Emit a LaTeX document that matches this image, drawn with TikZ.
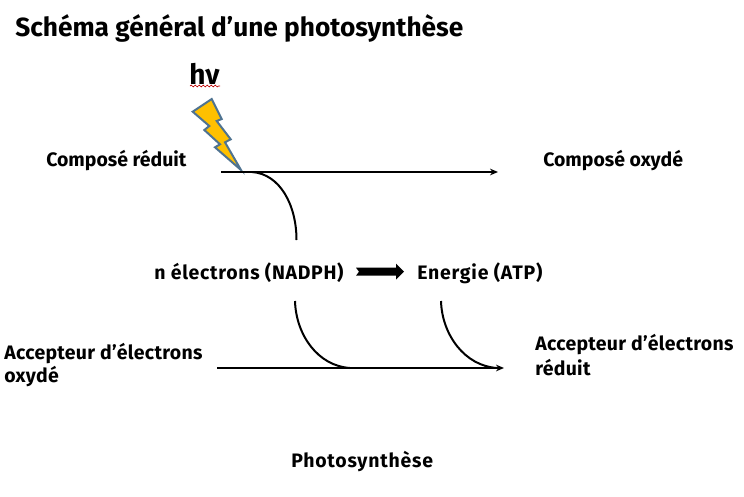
\documentclass[tikz,border=0pt]{standalone}
\usepackage{fontspec}
\setmainfont{Fira Sans}
\usetikzlibrary{arrows.meta,decorations.pathmorphing}
\tikzset{
  x=0.75pt,y=-0.75pt,
  lbl/.style={anchor=west,inner sep=0pt,font=\fontsize{14.6pt}{17pt}\selectfont\bfseries,text=black},
  wide/.style={lbl,font=\fontsize{14.6pt}{17pt}\selectfont\bfseries\addfontfeature{LetterSpace=#1}},
  ttl/.style={anchor=west,inner sep=0pt,font=\fontsize{19.7pt}{22pt}\selectfont\bfseries,text=black},
  link/.style={draw=black,line width=1.5pt},
  flow/.style={link,-{Stealth[length=6pt,width=5pt]}},
  bolt/.style={draw=boltedge,fill=boltfill,line width=1.5pt,line join=miter},
}
\definecolor{boltedge}{HTML}{4F7391}
\definecolor{boltfill}{HTML}{FFC000}
\begin{document}
\begin{tikzpicture}
\useasboundingbox (0,0) rectangle (744,497);
\node[ttl] (title) at (15,28) {Schéma général d’une photosynthèse};
\node[inner sep=0pt,anchor=west,font=\fontsize{21pt}{24pt}\selectfont\bfseries] (hnu) at (189,74) {hν};
\node[lbl] (cr) at (46,161) {Composé réduit};
\node[lbl] (co) at (543,161) {Composé oxydé};
\node[wide=3.6] (nadph) at (154,273) {n électrons (NADPH)};
\node[wide=4] (atp) at (417,273) {Energie (ATP)};
\node[wide=1.5] (ao1) at (4,354) {Accepteur d’électrons};
\node[wide=1.5] (ao2) at (4,377) {oxydé};
\node[wide=1.5] (ar1) at (535,345) {Accepteur d’électrons};
\node[wide=1.5] (ar2) at (535,368) {réduit};
\node[wide=4] (ph) at (291,462) {Photosynthèse};
% wavy underline
\coordinate (wa) at (190,86);
\coordinate (wb) at (220,86);
\draw[red!75!black,line width=0.5pt,decorate,decoration={snake,amplitude=0.7pt,segment length=3pt}] (wa) -- (wb);
% lightning
\draw[bolt] (211.7,99) -- (221.7,119) -- (216.7,121) -- (230.7,139.3) -- (225,142.3) -- (241,170)
  -- (215,147.3) -- (220,144.3) -- (204.3,130) -- (209.3,126) -- (192.7,111.7) -- cycle;
% flows
\coordinate (t1) at (221,172);
\coordinate (t2) at (498,172);
\coordinate (tc) at (252,172);
\coordinate (te) at (296.5,240);
\draw[flow] (t1) -- (t2);
\draw[link] (tc) .. controls (280,174) and (296.5,205) .. (te);
\coordinate (b1) at (217,368);
\coordinate (b2) at (504,368);
\coordinate (c1) at (295,301);
\coordinate (c1e) at (350,368);
\coordinate (c2) at (441,301);
\coordinate (c2e) at (497,368);
\draw[flow] (b1) -- (b2);
\draw[link] (c1) .. controls (296,335) and (318,366) .. (c1e);
\draw[link] (c2) .. controls (442,335) and (465,366) .. (c2e);
% thick arrow
\coordinate (fa) at (356,271.7);
\coordinate (fb) at (404,271.7);
\fill[black] (fa) ++(0,-4) -- ++(40,0) -- ++(0,-4) -- (fb) -- ++(-8,8) -- ++(0,-4) -- ++(-40,0) -- ++(3,-4) -- cycle;
\end{tikzpicture}
\end{document}
